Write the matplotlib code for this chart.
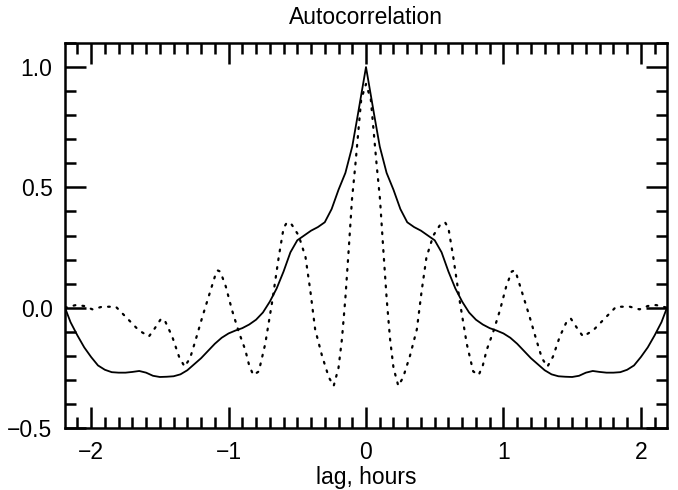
import matplotlib
matplotlib.use("Agg")
import matplotlib.pyplot as plt
from matplotlib.ticker import MultipleLocator

# Solid curve: autocorrelation (lag in hours)
lag_solid = [-2.19, -2.15, -2.1, -2.05, -2.0, -1.95, -1.9, -1.85, -1.8, -1.75,
             -1.7, -1.65, -1.6, -1.55, -1.5, -1.45, -1.4, -1.35, -1.3, -1.25,
             -1.2, -1.15, -1.1, -1.05, -1.0, -0.95, -0.9, -0.85, -0.8, -0.75,
             -0.7, -0.65, -0.6, -0.55, -0.5, -0.45, -0.4, -0.35, -0.3, -0.25,
             -0.2, -0.15, -0.1, -0.06, -0.03, 0.0,
             0.03, 0.06, 0.1, 0.15, 0.2, 0.25, 0.3, 0.35, 0.4, 0.45,
             0.5, 0.55, 0.6, 0.65, 0.7, 0.75, 0.8, 0.85, 0.9, 0.95,
             1.0, 1.05, 1.1, 1.15, 1.2, 1.25, 1.3, 1.35, 1.4, 1.45,
             1.5, 1.55, 1.6, 1.65, 1.7, 1.75, 1.8, 1.85, 1.9, 1.95,
             2.0, 2.05, 2.1, 2.15, 2.19]
acf_solid = [0.0, -0.06, -0.115, -0.165, -0.205, -0.24, -0.258, -0.268, -0.27, -0.27,
             -0.267, -0.263, -0.27, -0.283, -0.288, -0.287, -0.285, -0.277, -0.26, -0.235,
             -0.21, -0.18, -0.15, -0.125, -0.107, -0.095, -0.085, -0.07, -0.05, -0.02,
             0.025, 0.08, 0.15, 0.23, 0.28, 0.30, 0.32, 0.335, 0.355, 0.41,
             0.49, 0.56, 0.67, 0.80, 0.90, 1.0,
             0.90, 0.80, 0.67, 0.56, 0.49, 0.41, 0.355, 0.335, 0.32, 0.30,
             0.28, 0.23, 0.15, 0.08, 0.025, -0.02, -0.05, -0.07, -0.085, -0.095,
             -0.107, -0.125, -0.15, -0.18, -0.21, -0.235, -0.26, -0.277, -0.285, -0.287,
             -0.288, -0.283, -0.27, -0.263, -0.267, -0.27, -0.27, -0.268, -0.258, -0.24,
             -0.205, -0.165, -0.115, -0.06, 0.0]

# Dotted curve
lag_dot = [-2.19, -2.11, -2.05, -1.99, -1.92, -1.82, -1.75, -1.655, -1.58, -1.545,
           -1.49, -1.46, -1.41, -1.36, -1.32, -1.28, -1.24, -1.19, -1.145, -1.096,
           -1.08, -1.06, -1.02, -0.975, -0.926, -0.878, -0.85, -0.82, -0.78, -0.733,
           -0.684, -0.635, -0.6, -0.575, -0.54, -0.49, -0.44, -0.405, -0.37, -0.32,
           -0.27, -0.235, -0.2, -0.175, -0.15, -0.126, -0.102, -0.078, -0.053, -0.035,
           0.0,
           0.035, 0.053, 0.078, 0.102, 0.126, 0.15, 0.175, 0.2, 0.235, 0.27,
           0.32, 0.37, 0.405, 0.44, 0.49, 0.54, 0.575, 0.6, 0.635, 0.684,
           0.733, 0.78, 0.82, 0.85, 0.878, 0.926, 0.975, 1.02, 1.06, 1.08,
           1.096, 1.145, 1.19, 1.24, 1.28, 1.32, 1.36, 1.41, 1.46, 1.49,
           1.545, 1.58, 1.655, 1.75, 1.82, 1.92, 1.99, 2.05, 2.11, 2.19]
acf_dot = [0.0, 0.011, 0.007, -0.007, 0.004, 0.004, -0.037, -0.093, -0.12, -0.093,
           -0.045, -0.058, -0.12, -0.204, -0.245, -0.21, -0.135, -0.037, 0.046, 0.136,
           0.155, 0.15, 0.088, -0.01, -0.10, -0.176, -0.24, -0.28, -0.265, -0.15,
           0.02, 0.21, 0.33, 0.355, 0.345, 0.30, 0.21, 0.07, -0.09, -0.20,
           -0.29, -0.325, -0.25, -0.13, 0.04, 0.24, 0.45, 0.59, 0.75, 0.865,
           0.93,
           0.865, 0.75, 0.59, 0.45, 0.24, 0.04, -0.13, -0.25, -0.325, -0.29,
           -0.20, -0.09, 0.07, 0.21, 0.30, 0.345, 0.355, 0.33, 0.21, 0.02,
           -0.15, -0.265, -0.28, -0.24, -0.176, -0.10, -0.01, 0.088, 0.15, 0.155,
           0.136, 0.046, -0.037, -0.135, -0.21, -0.245, -0.204, -0.12, -0.058, -0.045,
           -0.093, -0.12, -0.093, -0.037, 0.004, 0.004, -0.007, 0.007, 0.011, 0.0]

x_ticks = [-2, -1, 0, 1, 2]
x_tick_labels = ["\u22122", "\u22121", "0", "1", "2"]
y_ticks = [-0.5, 0.0, 0.5, 1.0]
y_tick_labels = ["\u22120.5", "0.0", "0.5", "1.0"]

plt.rcParams['font.family'] = ['Liberation Sans', 'DejaVu Sans']

fig = plt.figure(figsize=(6.78, 4.90), dpi=100)
ax = fig.add_axes([65 / 678, 1 - 428 / 490, (667 - 65) / 678, (428 - 43) / 490])

ax.plot(lag_solid, acf_solid, color='black', lw=1.3, solid_joinstyle='round')
ax.plot(lag_dot, acf_dot, color='black', lw=1.6, linestyle=(0, (0.8, 3.2)),
        dash_capstyle='round')

ax.set_xlim(-2.19, 2.19)
ax.set_ylim(-0.5, 1.1)

ax.set_xticks(x_ticks)
ax.set_xticklabels(x_tick_labels)
ax.set_yticks(y_ticks)
ax.set_yticklabels(y_tick_labels)
ax.xaxis.set_minor_locator(MultipleLocator(0.1))
ax.yaxis.set_minor_locator(MultipleLocator(0.1))

ax.tick_params(which='both', direction='in', top=True, right=True, width=1.8,
               labelsize=16.5, color='black')
ax.tick_params(which='major', length=15, pad=9)
ax.tick_params(which='minor', length=8)
for s in ax.spines.values():
    s.set_linewidth(1.8)

ax.set_title("Autocorrelation", fontsize=16.5, pad=14)
ax.set_xlabel("lag, hours", fontsize=16.5, labelpad=2)

fig.savefig("out.png", dpi=100)
